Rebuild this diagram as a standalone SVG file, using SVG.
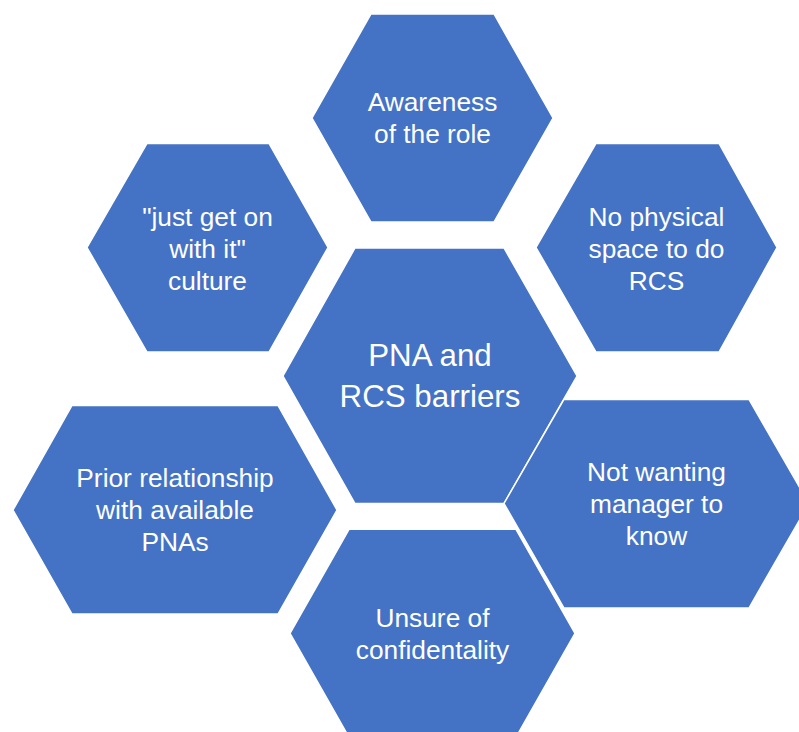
<svg xmlns="http://www.w3.org/2000/svg" width="799" height="732" viewBox="0 0 799 732">
<style>
.hex{fill:#4472C4;stroke:#FFFFFF;stroke-width:1.5;stroke-linejoin:miter}
.t{fill:#FFFFFF;font-family:"Liberation Sans",Arial,sans-serif;font-size:26.3px;text-anchor:middle}
.tc{fill:#FFFFFF;font-family:"Liberation Sans",Arial,sans-serif;font-size:31.3px;text-anchor:middle}
</style>
<rect width="799" height="732" fill="#FFFFFF"/>
<g id="connectors"></g>
<g id="node-awareness">
<polygon class="hex" points="371,14 494,14 553,118 494,222 371,222 312,118"/>
<text class="t" x="432.5" y="111">Awareness</text>
<text class="t" x="432.5" y="143">of the role</text>
</g>
<g id="node-culture">
<polygon class="hex" points="147,143.5 269,143.5 328,247.5 269,352 147,352 87,247.5"/>
<text class="t" x="207.5" y="226">"just get on</text>
<text class="t" x="207.5" y="258">with it"</text>
<text class="t" x="207.5" y="290">culture</text>
</g>
<g id="node-space">
<polygon class="hex" points="596,143.5 719,143.5 777,247.5 719,352 596,352 536,247.5"/>
<text class="t" x="656.5" y="226">No physical</text>
<text class="t" x="656.5" y="258">space to do</text>
<text class="t" x="656.5" y="290">RCS</text>
</g>
<g id="node-center">
<polygon class="hex" points="355,248 504,248 577,376 504,503.5 355,503.5 283,376"/>
<text class="tc" x="430" y="366">PNA and</text>
<text class="tc" x="430" y="407">RCS barriers</text>
</g>
<g id="node-prior">
<polygon class="hex" points="72,405.5 278,405.5 337,510 278,614 72,614 13,510"/>
<text class="t" x="175" y="487">Prior relationship</text>
<text class="t" x="175" y="519">with available</text>
<text class="t" x="175" y="551">PNAs</text>
</g>
<g id="node-manager">
<polygon class="hex" points="564,399.5 749,399.5 809,503.5 749,608 564,608 504,503.5"/>
<text class="t" x="656.5" y="481">Not wanting</text>
<text class="t" x="656.5" y="513">manager to</text>
<text class="t" x="656.5" y="545">know</text>
</g>
<g id="node-confidentiality">
<polygon class="hex" points="349,529.3 516,529.3 575,633.3 516,737.3 349,737.3 290,633.3"/>
<text class="t" x="432.5" y="627">Unsure of</text>
<text class="t" x="432.5" y="659">confidentality</text>
</g>
</svg>
